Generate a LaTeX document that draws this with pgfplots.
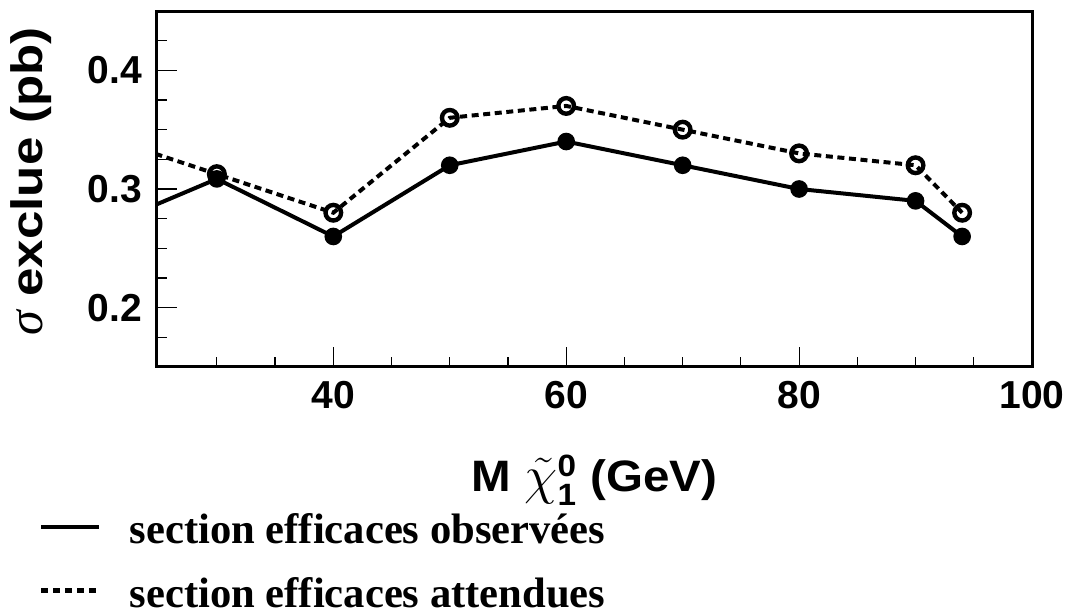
\documentclass[border=0pt]{standalone}
\usepackage{graphicx}
\usepackage{pgfplots}
\pgfplotsset{compat=1.18}
\usepackage{amsmath}
\usepackage{fontspec}
\setmainfont{Liberation Serif}
\newfontfamily\hv{Liberation Sans}
\newfontfamily\hvy{Liberation Sans}[FakeStretch=1.16]
\newfontfamily\hvx{Liberation Sans}[FakeStretch=1.08]
\begin{document}
\begin{tikzpicture}
\begin{axis}[
  scale only axis, width=437.5pt, height=178pt,
  xmin=24.86, xmax=100, ymin=0.15, ymax=0.45,
  axis line style={line width=1.5pt},
  tick pos=left, tick align=inside,
  xtick={40,60,80,100},
  minor xtick={30,35,45,50,55,65,70,75,85,90,95},
  ytick={0.2,0.3,0.4}, yticklabels={0.2,0.3,0.4},
  minor ytick={0.175,0.225,0.25,0.275,0.325,0.35,0.375,0.425},
  major tick length=10pt, minor tick length=5pt,
  every tick/.style={line width=0.6pt, black},
  /pgf/number format/assume math mode=true,
  ticklabel style={font=\hv\bfseries\fontsize{19.5}{22}\selectfont},
  xticklabel style={yshift=-3.5pt},
  yticklabel style={xshift=-4pt},
  xlabel={M \raisebox{-1pt}{\scalebox{1.3}{$\tilde{\chi}$}}$^{\text{0}}_{\text{1}}$ (GeV)},
  xlabel style={font=\hvx\bfseries\fontsize{22}{26}\selectfont, at={(axis description cs:0.5,-0.351)}, anchor=base},
  ylabel={{\rmfamily\mdseries\itshape\fontsize{25}{26}\selectfont σ} exclue (pb)},
  ylabel style={font=\hvy\bfseries\fontsize{22}{26}\selectfont, at={(axis description cs:-0.1434,0.522)}, anchor=center},
  legend style={at={(axis description cs:-0.1354,-0.399)}, anchor=north west, draw=none, fill=none,
    font=\rmfamily\bfseries\fontsize{21.3}{25}\selectfont, row sep=11.4pt, column sep=12pt, inner sep=0pt},
  legend cell align=left,
  legend image code/.code={\draw[#1] (0pt,1.5pt) -- (29pt,1.5pt);},
]
\addlegendimage{line width=2pt}
\addlegendentry{section efficaces observées}
\addlegendimage{line width=2.4pt, dash pattern=on 3.5pt off 2.5pt}
\addlegendentry{section efficaces attendues}

% expected (dashed, open circles)
\addplot[line width=2pt, dash pattern=on 3.5pt off 2.3pt, mark=o, mark size=3.9pt,
  mark options={solid, line width=2.2pt}, mark indices={1,2,3,4,5,6,7,8}, forget plot]
  coordinates {(20,0.345) (30,0.3125) (40,0.28) (50,0.36) (60,0.37) (70,0.35) (80,0.33) (90,0.32) (94,0.28)};
% observed (solid, filled circles)
\addplot[line width=2pt, mark=*, mark size=3.5pt, mark options={solid, line width=1.8pt},
  mark indices={1,2,3,4,5,6,7,8}, forget plot]
  coordinates {(20,0.267) (30,0.3085) (40,0.26) (50,0.32) (60,0.34) (70,0.32) (80,0.30) (90,0.29) (94,0.26)};
\coordinate (O) at (rel axis cs:0,0);
\end{axis}
\pgfresetboundingbox
\path[use as bounding box] (O) ++(-78.5pt,-121pt) rectangle ++(533.5pt,304.5pt);
\end{tikzpicture}
\end{document}
